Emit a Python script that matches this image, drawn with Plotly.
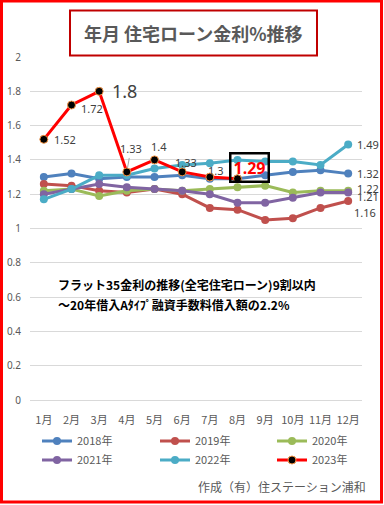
import plotly.graph_objects as go

months = ["1月", "2月", "3月", "4月", "5月", "6月", "7月", "8月", "9月", "10月", "11月", "12月"]
y2018 = [1.30, 1.32, 1.29, 1.30, 1.30, 1.31, 1.29, 1.29, 1.31, 1.33, 1.34, 1.32]
y2019 = [1.26, 1.25, 1.22, 1.21, 1.23, 1.20, 1.12, 1.11, 1.05, 1.06, 1.12, 1.16]
y2020 = [1.22, 1.23, 1.19, 1.22, 1.23, 1.22, 1.23, 1.24, 1.25, 1.21, 1.22, 1.22]
y2021 = [1.20, 1.23, 1.26, 1.24, 1.23, 1.22, 1.20, 1.15, 1.15, 1.18, 1.21, 1.21]
y2022 = [1.17, 1.23, 1.31, 1.31, 1.35, 1.37, 1.38, 1.40, 1.39, 1.39, 1.37, 1.49]
y2023 = [1.52, 1.72, 1.80, 1.33, 1.40, 1.33, 1.30, 1.29]
series_names = ["2018年", "2019年", "2020年", "2021年", "2022年", "2023年"]

JP = "Noto Sans CJK JP"
NUM = "Noto Sans, Noto Sans CJK JP"
GRAY = "#595959"
LBL = "#404040"

colors = ["#4F81BD", "#C0504D", "#9BBB59", "#8064A2", "#4BACC6"]
data = [y2018, y2019, y2020, y2021, y2022]

fig = go.Figure()
legend_ids = ["legend", "legend2", "legend3", "legend4", "legend5", "legend6"]
for i, (ys, c) in enumerate(zip(data, colors)):
    fig.add_trace(go.Scatter(
        x=months[:len(ys)], y=ys, name=series_names[i], mode="lines+markers",
        line=dict(color=c, width=3), marker=dict(color=c, size=8),
        legend=legend_ids[i],
    ))
fig.add_trace(go.Scatter(
    x=months[:len(y2023)], y=y2023, name=series_names[5], mode="lines+markers",
    line=dict(color="#FF0000", width=3),
    marker=dict(color="#000000", size=8, line=dict(color="#F79646", width=1)),
    legend=legend_ids[5],
))

def fmt(v):
    return f"{v:g}"

ann = []
# end labels for 2018-2022
end_shifts = [(20, 0), (17, -11), (20, 2), (20, -4), (20, 0)]
for ys, (dx, dy) in zip(data, end_shifts):
    ann.append(dict(x=len(ys) - 1, y=ys[-1], text=fmt(ys[-1]), showarrow=False,
                    xshift=dx, yshift=dy, font=dict(family=NUM, size=11, color=LBL)))

# 2023 labels
shifts_2023 = [(21, 0), (20, -3), None, None, (4, 13), (4, 9), (6, 7), None]
for i, v in enumerate(y2023):
    s = shifts_2023[i]
    if s is None:
        continue
    ann.append(dict(x=i, y=v, text=fmt(v), showarrow=False, xshift=s[0], yshift=s[1],
                    font=dict(family=NUM, size=11, color=LBL)))
# big 1.8
ann.append(dict(x=2, y=y2023[2], text=fmt(y2023[2]), showarrow=False, xshift=25, yshift=0,
                font=dict(family=NUM, size=18, color=LBL)))
# 1.33 with leader line
ann.append(dict(x=3, y=y2023[3], text=fmt(y2023[3]), showarrow=True, ax=4, ay=-23,
                arrowhead=0, arrowwidth=1, arrowcolor="#A6A6A6", standoff=4,
                font=dict(family=NUM, size=11, color=LBL)))
# boxed 1.29
ann.append(dict(x=7, y=y2023[7], text="<b>" + fmt(y2023[7]) + "</b>", showarrow=False,
                xshift=12, yshift=11, bordercolor="#000000", borderwidth=2.5, borderpad=2,
                font=dict(family=NUM, size=16, color="#FF0000")))

def px_x(p):
    return (p - 30) / 332

def px_y(p):
    return (400.5 - p) / 343

# title
ann.append(dict(xref="paper", yref="paper", x=px_x(193.5), y=px_y(33.5), xanchor="center", yanchor="middle",
                text="<b>年月 住宅ローン金利%推移</b>",
                showarrow=False, font=dict(family=JP, size=18, color=GRAY)))
# notes
ann.append(dict(xref="paper", yref="paper", x=px_x(56), y=px_y(285), xanchor="left", yanchor="middle",
                text="<b>フラット35金利の推移(全宅住宅ローン)9割以内</b>", showarrow=False,
                font=dict(family=JP, size=12, color="#000000")))
ann.append(dict(xref="paper", yref="paper", x=px_x(56), y=px_y(305), xanchor="left", yanchor="middle",
                text="<b>～20年借入Aﾀｲﾌﾟ融資手数料借入額の2.2%</b>", showarrow=False,
                font=dict(family=JP, size=12, color="#000000")))
# credit
ann.append(dict(xref="paper", yref="paper", x=px_x(368), y=px_y(487), xanchor="right", yanchor="middle",
                text="作成（有）住ステーション浦和", showarrow=False,
                font=dict(family=JP, size=12, color=GRAY)))

shapes = [
    dict(type="rect", xref="paper", yref="paper",
         x0=px_x(1.5), x1=px_x(381.5), y0=px_y(502.5), y1=px_y(1.5),
         line=dict(color="#FF0000", width=3)),
    dict(type="rect", xref="paper", yref="paper",
         x0=px_x(70), x1=px_x(317), y0=px_y(56), y1=px_y(11),
         line=dict(color="#C00000", width=2)),
]

layout = dict(
    width=384, height=505,
    margin=dict(l=30, r=22, t=57, b=105, autoexpand=False),
    paper_bgcolor="white", plot_bgcolor="white",
    showlegend=True,
    xaxis=dict(type="category", showgrid=False, zeroline=False, showline=False,
               range=[-0.5, 11.5], autorange=False, automargin=False,
               tickfont=dict(family=JP, size=11, color=GRAY), ticks="", ticklabelstandoff=12,
               categoryorder="array", categoryarray=months),
    yaxis=dict(range=[0, 2], autorange=False, automargin=False, dtick=0.2, showgrid=True,
               gridcolor="#D9D9D9", gridwidth=1,
               zeroline=True, zerolinecolor="#D9D9D9", zerolinewidth=1,
               tickfont=dict(family=NUM, size=10, color=GRAY), ticklabelstandoff=8),
    annotations=ann, shapes=shapes,
)
leg_pos = [(37, 441), (155, 441), (272, 441), (37, 460), (155, 460), (272, 460)]
for lid, (px, py) in zip(legend_ids, leg_pos):
    layout[lid] = dict(xref="container", yref="container", x=px / 384, y=1 - py / 505,
                       xanchor="left", yanchor="middle", bgcolor="rgba(0,0,0,0)",
                       font=dict(family=JP, size=11, color=GRAY))
fig.update_layout(**layout)
fig.write_html("out.html", config={"displayModeBar": False},
               post_script="document.body.style.margin='0';")
